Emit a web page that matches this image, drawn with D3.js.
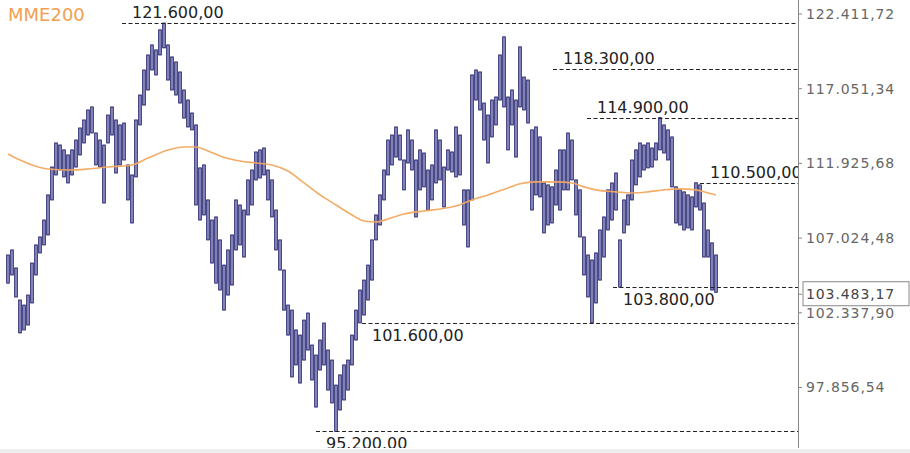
<!DOCTYPE html>
<html>
<head>
<meta charset="utf-8">
<script src="https://cdn.jsdelivr.net/npm/d3@7"></script>
<style>
  body { margin: 0; background: #fff; }
  text { font-family: "DejaVu Sans", Verdana, sans-serif; }
</style>
</head>
<body>
<div id="chart"></div>
<script>
// price bars (high / low), one per period
var highs = [105820, 106140, 105000, 103000, 102690, 103310, 105310, 106460, 106970, 108060,
    109700, 111550, 113170, 113030, 112700, 112360, 112700, 113370, 114190, 114740,
    115430, 115640, 113850, 113370, 113030, 115080, 115640, 114740, 114400, 114530,
    111690, 111020, 114740, 116470, 118230, 119300, 120020, 119660, 121110, 121600,
    120020, 119160, 118800, 118090, 116820, 116120, 115220, 114400, 111490, 111690,
    109370, 108060, 108260, 106780, 105180, 106140, 107100, 109370, 109040, 108710,
    110690, 111350, 112560, 112700, 112830, 111350, 110690, 108710, 106780, 104870,
    102690, 102380, 101170, 100860, 101770, 102200, 100260, 99660, 100560, 101590,
    99960, 99360, 97880, 98480, 99070, 99360, 100860, 102380, 103620, 104240,
    105180, 106780, 108390, 109700, 111350, 113370, 113710, 114260, 113710, 112020,
    114060, 113370, 112020, 112700, 112490, 111350, 111690, 114060, 113370, 111550,
    112700, 112560, 114260, 113710, 110030, 110030, 117880, 118230, 118090, 115910,
    115080, 116120, 116330, 119300, 120600, 116330, 116820, 116120, 119880, 117730,
    117520, 114060, 114260, 113580, 110490, 110360, 110230, 111350, 112700, 112700,
    113850, 113370, 110690, 110030, 106970, 105820, 105500, 105950, 107420, 108260,
    110030, 110490, 111150, 106780, 109370, 109700, 112020, 112700, 113170, 113030,
    113170, 112830, 113170, 114900, 114400, 114060, 113580, 110230, 110030, 109900,
    109700, 109570, 110500, 110360, 109170, 107420, 106590, 105820];
var lows = [104050, 104560, 103190, 100990, 101170, 101470, 102820, 104560, 105950, 106460,
    107100, 109370, 111020, 111350, 110890, 110490, 111020, 111550, 112360, 113170,
    113710, 113850, 111690, 111550, 109170, 113170, 113710, 111150, 111690, 112020,
    109370, 107870, 110890, 114400, 115770, 116820, 118230, 117880, 119300, 119810,
    117520, 116820, 116470, 115910, 114870, 114260, 114060, 109040, 108060, 108390,
    106780, 105310, 104050, 103620, 102380, 103310, 103930, 106140, 106460, 105690,
    108390, 109040, 110690, 110820, 111020, 109370, 108260, 106140, 104870, 102380,
    100860, 98360, 99070, 98000, 99360, 99960, 98180, 96600, 98770, 99070,
    97590, 96840, 95200, 96430, 97010, 97590, 99070, 100560, 101600, 102080,
    103000, 104240, 106780, 107740, 109370, 111020, 111690, 112220, 112020, 110030,
    111820, 111350, 108260, 110030, 110230, 108710, 109370, 110490, 110690, 108910,
    111350, 111220, 110890, 111020, 107740, 106330, 109370, 116120, 115430, 113370,
    111820, 113580, 114400, 116120, 115640, 112700, 114400, 112220, 115640, 115430,
    114530, 108710, 109700, 109570, 107230, 107740, 107870, 109040, 108710, 110030,
    110030, 110690, 108390, 106970, 104560, 103190, 101600, 102820, 104240, 105690,
    107420, 108060, 108710, 103800, 107230, 107740, 109370, 110360, 110890, 111350,
    111490, 111550, 112020, 112700, 112490, 112020, 110230, 107870, 107740, 107420,
    107550, 107420, 108910, 108710, 105690, 105690, 103620, 103480];

// MME200 sampled at bar indices
var maIdx = [0, 3, 6, 10, 15, 20, 25, 31, 35, 40, 44, 47, 50, 53, 58, 62, 66, 70, 74, 78,
    82, 86, 89, 92, 95, 99, 104, 108, 112, 116, 120, 125, 128, 132, 137, 141, 144, 147,
    152, 156, 160, 164, 168, 172, 175, 177];
var maVal = [112430, 112020, 111690, 111420, 111350, 111420, 111550, 111690, 112150, 112700,
    112900, 112900, 112630, 112290, 111950, 111820, 111690, 111280, 110490, 109700,
    109040, 108390, 108000, 107930, 108130, 108450, 108650, 108780, 108970, 109370,
    109700, 110160, 110430, 110560, 110560, 110490, 110230, 110030, 109900, 109830,
    109900, 110030, 110100, 110030, 109830, 109700];

// axis ticks and last price
var axisTicks = [122411.72, 117051.34, 111925.68, 107024.48, 102337.90, 97856.54];
var lastPrice = 103483.17;

// annotated levels
var levels = [121600, 118300, 114900, 110500, 103800, 101600, 95200];
var levelLabels = ["121.600,00", "118.300,00", "114.900,00", "110.500,00", "103.800,00", "101.600,00", "95.200.00"];

// layout for the level annotations (start x of the dashed line, label above/below)
var levelStartX = [122, 553, 587, 700, 613, 362, 316];
var levelBelow = [false, false, false, false, true, true, true];

var width = 910, height = 453;
var axisX = 798, plotBottom = 448;

var fmt = d3.formatLocale({ decimal: ",", thousands: ".", grouping: [3], currency: ["", ""] }).format(",.2f");

var svg = d3.select("#chart").append("svg")
    .attr("width", width)
    .attr("height", height);

svg.append("rect").attr("width", width).attr("height", height).attr("fill", "#fff");
svg.append("rect").attr("x", 0).attr("y", 449).attr("width", width).attr("height", 4).attr("fill", "#eeeeee");

svg.append("defs").append("clipPath").attr("id", "plot")
    .append("rect").attr("x", 0).attr("y", 0).attr("width", axisX).attr("height", plotBottom);

var x = d3.scaleLinear().domain([0, highs.length - 1]).range([8, 716]);
var y = d3.scaleLog().domain([97856.54, 122411.72]).range([385.5, 12]);

var plot = svg.append("g").attr("clip-path", "url(#plot)");

// bars
plot.selectAll(".bar")
    .data(highs)
    .enter().append("rect")
    .attr("class", "bar")
    .attr("x", function(d, i) { return x(i) - 1.3; })
    .attr("width", 2.6)
    .attr("y", function(d) { return y(d); })
    .attr("height", function(d, i) { return Math.max(1, y(lows[i]) - y(d)); })
    .attr("fill", "#9494c6")
    .attr("stroke", "#1a1a66")
    .attr("stroke-width", 0.9);

// moving average
var maLine = d3.line()
    .x(function(d, i) { return x(maIdx[i]); })
    .y(function(d) { return y(d); })
    .curve(d3.curveMonotoneX);

plot.append("path")
    .datum(maVal)
    .attr("d", maLine)
    .attr("fill", "none")
    .attr("stroke", "#f2a85e")
    .attr("stroke-width", 1.6)
    .attr("opacity", 0.95);

// level lines + labels
levels.forEach(function(v, i) {
    plot.append("line")
        .attr("x1", levelStartX[i])
        .attr("x2", axisX)
        .attr("y1", Math.round(y(v)) + 0.5)
        .attr("y2", Math.round(y(v)) + 0.5)
        .attr("stroke", "#222")
        .attr("stroke-width", 1.2)
        .attr("stroke-dasharray", "4,2.5");
    plot.append("text")
        .attr("x", levelStartX[i] + 10)
        .attr("y", levelBelow[i] ? y(v) + 18 : y(v) - 5)
        .attr("fill", "#222")
        .style("font-size", "16px")
        .text(levelLabels[i]);
});

// legend
svg.append("text")
    .attr("x", 8)
    .attr("y", 21)
    .attr("fill", "#f2a050")
    .style("font-size", "18px")
    .text("MME200");

// right axis
var axis = svg.append("g")
    .attr("transform", "translate(" + axisX + ",0)")
    .call(d3.axisRight(y).tickValues(axisTicks.concat([lastPrice])).tickFormat(fmt).tickSize(4));

axis.select(".domain").remove();
axis.selectAll("line").attr("stroke", "#888").attr("transform", "translate(0,1.5)");
axis.selectAll("text")
    .attr("fill", "#666")
    .attr("x", 8)
    .attr("dy", "0.45em")
    .style("font-size", "14px")
    .style("letter-spacing", "0.9px")
    .style("font-family", "'DejaVu Sans', Verdana, sans-serif");

svg.append("line")
    .attr("x1", axisX + 0.5).attr("x2", axisX + 0.5)
    .attr("y1", 0).attr("y2", plotBottom)
    .attr("stroke", "#888");

// last price box
var lastTick = axis.selectAll(".tick").filter(function(d) { return d === lastPrice; });
lastTick.insert("rect", "text")
    .attr("x", 5)
    .attr("y", -11)
    .attr("width", 106)
    .attr("height", 24)
    .attr("fill", "#fff")
    .attr("stroke", "#888");
lastTick.select("text").attr("fill", "#444");
</script>
</body>
</html>
